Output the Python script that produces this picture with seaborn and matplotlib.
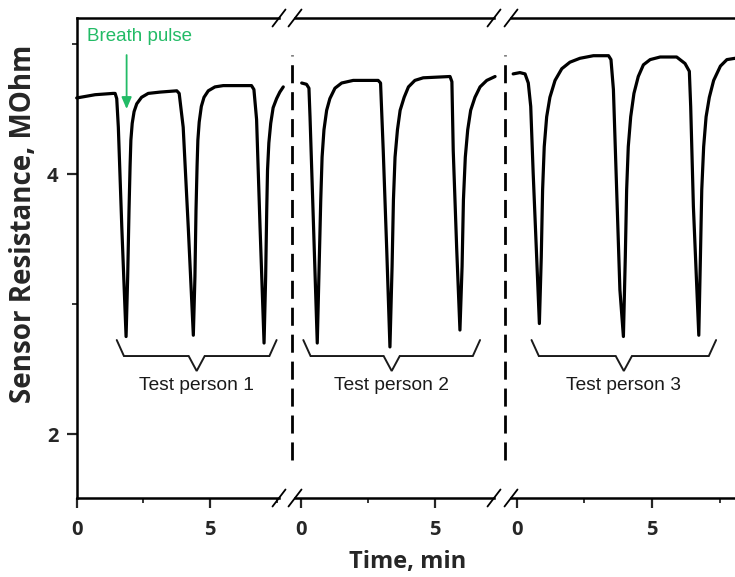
import matplotlib
matplotlib.use("Agg")
import matplotlib.pyplot as plt
import seaborn as sns
import pandas as pd
from matplotlib.ticker import MultipleLocator, FixedLocator

sns.set_style("ticks")
plt.rcParams['font.family'] = ['Open Sans', 'DejaVu Sans']

# ---------------- data ----------------
# Test person 1 (time in min, resistance in MOhm)
t_p1 = [0.00, 0.69, 1.36, 1.44, 1.50, 1.56, 1.69, 1.85,
        1.91, 1.96, 2.00, 2.03, 2.08, 2.15, 2.25, 2.43, 2.68, 3.12, 3.75,
        3.84, 3.99, 4.18, 4.37,
        4.43, 4.47, 4.51, 4.54, 4.59, 4.67, 4.77, 4.93, 5.18, 5.49, 6.55,
        6.64, 6.74, 6.87, 7.02,
        7.08, 7.12, 7.15, 7.20, 7.27, 7.36, 7.49, 7.61, 7.74]
r_p1 = [4.585, 4.61, 4.62, 4.62, 4.58, 4.36, 3.59, 2.75,
        3.21, 3.72, 4.06, 4.26, 4.39, 4.48, 4.54, 4.59, 4.62, 4.63, 4.64,
        4.62, 4.36, 3.59, 2.76,
        3.21, 3.72, 4.06, 4.26, 4.40, 4.52, 4.59, 4.64, 4.67, 4.68, 4.68,
        4.65, 4.42, 3.59, 2.70,
        3.21, 3.72, 4.03, 4.24, 4.39, 4.51, 4.58, 4.63, 4.67]
# Test person 2
t_p2 = [0.03, 0.21, 0.30, 0.34, 0.46, 0.61,
        0.68, 0.74, 0.79, 0.86, 0.96, 1.08, 1.27, 1.52, 1.95, 2.88,
        2.97, 3.07, 3.20, 3.32,
        3.40, 3.45, 3.51, 3.60, 3.70, 3.85, 4.01, 4.25, 4.56, 5.56,
        5.63, 5.68, 5.81, 5.93,
        6.01, 6.06, 6.13, 6.22, 6.33, 6.49, 6.68, 6.93, 7.24]
r_p2 = [4.70, 4.69, 4.66, 4.44, 3.67, 2.70,
        3.29, 3.80, 4.13, 4.34, 4.49, 4.58, 4.66, 4.70, 4.72, 4.72,
        4.70, 4.18, 3.42, 2.67,
        3.29, 3.80, 4.13, 4.34, 4.49, 4.59, 4.67, 4.72, 4.74, 4.75,
        4.71, 4.18, 3.42, 2.80,
        3.29, 3.80, 4.13, 4.34, 4.49, 4.59, 4.67, 4.72, 4.75]
# Test person 3
t_p3 = [-0.14, 0.11, 0.30, 0.42, 0.51, 0.60, 0.73, 0.83,
        0.90, 0.95, 1.01, 1.10, 1.22, 1.41, 1.66, 1.96, 2.33, 2.83, 3.39,
        3.48, 3.57, 3.69, 3.81, 3.94,
        4.01, 4.06, 4.12, 4.21, 4.33, 4.49, 4.68, 4.93, 5.30, 5.91, 6.22, 6.38,
        6.43, 6.53, 6.73,
        6.79, 6.84, 6.91, 7.00, 7.12, 7.28, 7.53, 7.77, 8.07, 8.20]
r_p3 = [4.77, 4.78, 4.77, 4.70, 4.52, 4.01, 3.36, 2.85,
        3.36, 3.88, 4.21, 4.44, 4.59, 4.72, 4.81, 4.86, 4.89, 4.91, 4.91,
        4.88, 4.65, 3.88, 3.11, 2.75,
        3.36, 3.88, 4.21, 4.44, 4.62, 4.75, 4.84, 4.88, 4.90, 4.90, 4.85, 4.79,
        4.52, 3.75, 2.76,
        3.36, 3.88, 4.21, 4.44, 4.59, 4.72, 4.83, 4.88, 4.89, 4.89]

persons = ["Test person 1", "Test person 2", "Test person 3"]
brace_start = [1.50, 0.09, 0.54]
brace_end = [7.49, 6.68, 7.37]
x_major = [0, 5]
y_major = [2, 4]
y_minor = [3, 5]

segments = [(t_p1, r_p1), (t_p2, r_p2), (t_p3, r_p3)]

# ---------------- layout ----------------
W, H = 735, 577
fig = plt.figure(figsize=(W / 100, H / 100), dpi=100)
TOP, BOT = 18, 498


def px_axes(l, r):
    return fig.add_axes([l / W, 1 - BOT / H, (r - l) / W, (BOT - TOP) / H])


edges = [(76.7, 279), (295, 494), (511, 735)]
axes = [px_axes(l, r) for l, r in edges]
xlims = [(0, 7.58), (-0.22, 7.20), (-0.22, 8.07)]
ylim = (1.508, 5.2)

TICK_FONT = dict(fontweight='bold', fontsize=14.5, family=['Open Sans', 'DejaVu Sans'])
ANN_FONT = ['Liberation Sans', 'DejaVu Sans']
SPINE_W = 1.8

for i, (ax, (t, r)) in enumerate(zip(axes, segments)):
    df = pd.DataFrame({"Time": t, "R": r})
    sns.lineplot(data=df, x="Time", y="R", ax=ax, color='black', linewidth=2.3,
                 sort=False, estimator=None)
    for ln in ax.lines:
        ln.set_solid_joinstyle('round')
        if i < 2:
            ln.set_clip_on(False)
    ax.set_xlim(*xlims[i])
    ax.set_ylim(*ylim)
    ax.set_xlabel("")
    ax.set_ylabel("")
    ax.set_facecolor('white')
    for s in ax.spines.values():
        s.set_linewidth(SPINE_W)
        s.set_color('black')
    ax.spines['right'].set_visible(False)
    ax.spines['top'].set_visible(True)
    if i > 0:
        ax.spines['left'].set_visible(False)
        ax.set_yticks([])
        ax.tick_params(axis='y', which='both', left=False)
    ax.set_xticks(x_major, labels=[str(v) for v in x_major], **TICK_FONT)
    ax.xaxis.set_minor_locator(MultipleLocator(2.5))
    ax.tick_params(axis='x', which='major', length=7, width=1.6, pad=9, direction='out')
    ax.tick_params(axis='x', which='minor', length=3.5, width=1.3, direction='out')
    ax.grid(False)

    # brace and label
    s0, s1 = brace_start[i], brace_end[i]
    mid = (s0 + s1) / 2
    bx = [s0, s0 + 0.27, mid - 0.3, mid, mid + 0.3, s1 - 0.27, s1]
    by = [2.723, 2.600, 2.600, 2.485, 2.600, 2.600, 2.723]
    ax.plot(bx, by, color='#1a1a1a', linewidth=1.4, solid_joinstyle='miter')
    ax.text(mid, 2.375, persons[i], ha='center', va='center', fontsize=13.8,
            family=ANN_FONT, color='#1a1a1a')

ax1 = axes[0]
ax1.set_yticks(y_major, labels=[str(v) for v in y_major], **TICK_FONT)
ax1.yaxis.set_minor_locator(FixedLocator(y_minor))
ax1.tick_params(axis='y', which='major', length=7, width=1.6, pad=6, direction='out')
ax1.tick_params(axis='y', which='minor', length=3.5, width=1.3, direction='out')

# axis labels
ax1.set_ylabel("Sensor Resistance, MOhm", fontweight='bold', fontsize=20)
ax1.yaxis.set_label_coords(-0.19, 0.571)
axes[1].set_xlabel("Time, min", fontweight='bold', fontsize=17)
axes[1].xaxis.set_label_coords(0.565, -0.108)

# broken-axis slashes
for ax, sides in zip(axes, [[1], [0, 1], [0]]):
    bb = ax.get_position()
    wpx, hpx = bb.width * W, bb.height * H
    dx, dy = 6.5 / wpx, 8.5 / hpx
    for sx in sides:
        for sy in (0, 1):
            ax.plot([sx - dx, sx + dx], [sy - dy, sy + dy], transform=ax.transAxes,
                    color='black', linewidth=1.3, clip_on=False)

# dashed separators between test persons
dash_kw = dict(color='black', linewidth=2.0, dashes=(6.5, 3.2), clip_on=False,
               ymin=0.079, ymax=0.923)
axes[1].axvline(-0.34, **dash_kw)
axes[2].axvline(-0.44, **dash_kw)

# breath pulse annotation
green = '#22bb66'
ax1.annotate("", xy=(1.87, 4.50), xytext=(1.87, 4.915),
             arrowprops=dict(arrowstyle='-|>,head_length=0.7,head_width=0.3',
                             color=green, linewidth=1.3, shrinkA=0, shrinkB=0))
ax1.text(0.39, 5.055, "Breath pulse", ha='left', va='center', fontsize=13.5,
         family=ANN_FONT, color=green)

fig.savefig("out.png", dpi=100, facecolor='white')
